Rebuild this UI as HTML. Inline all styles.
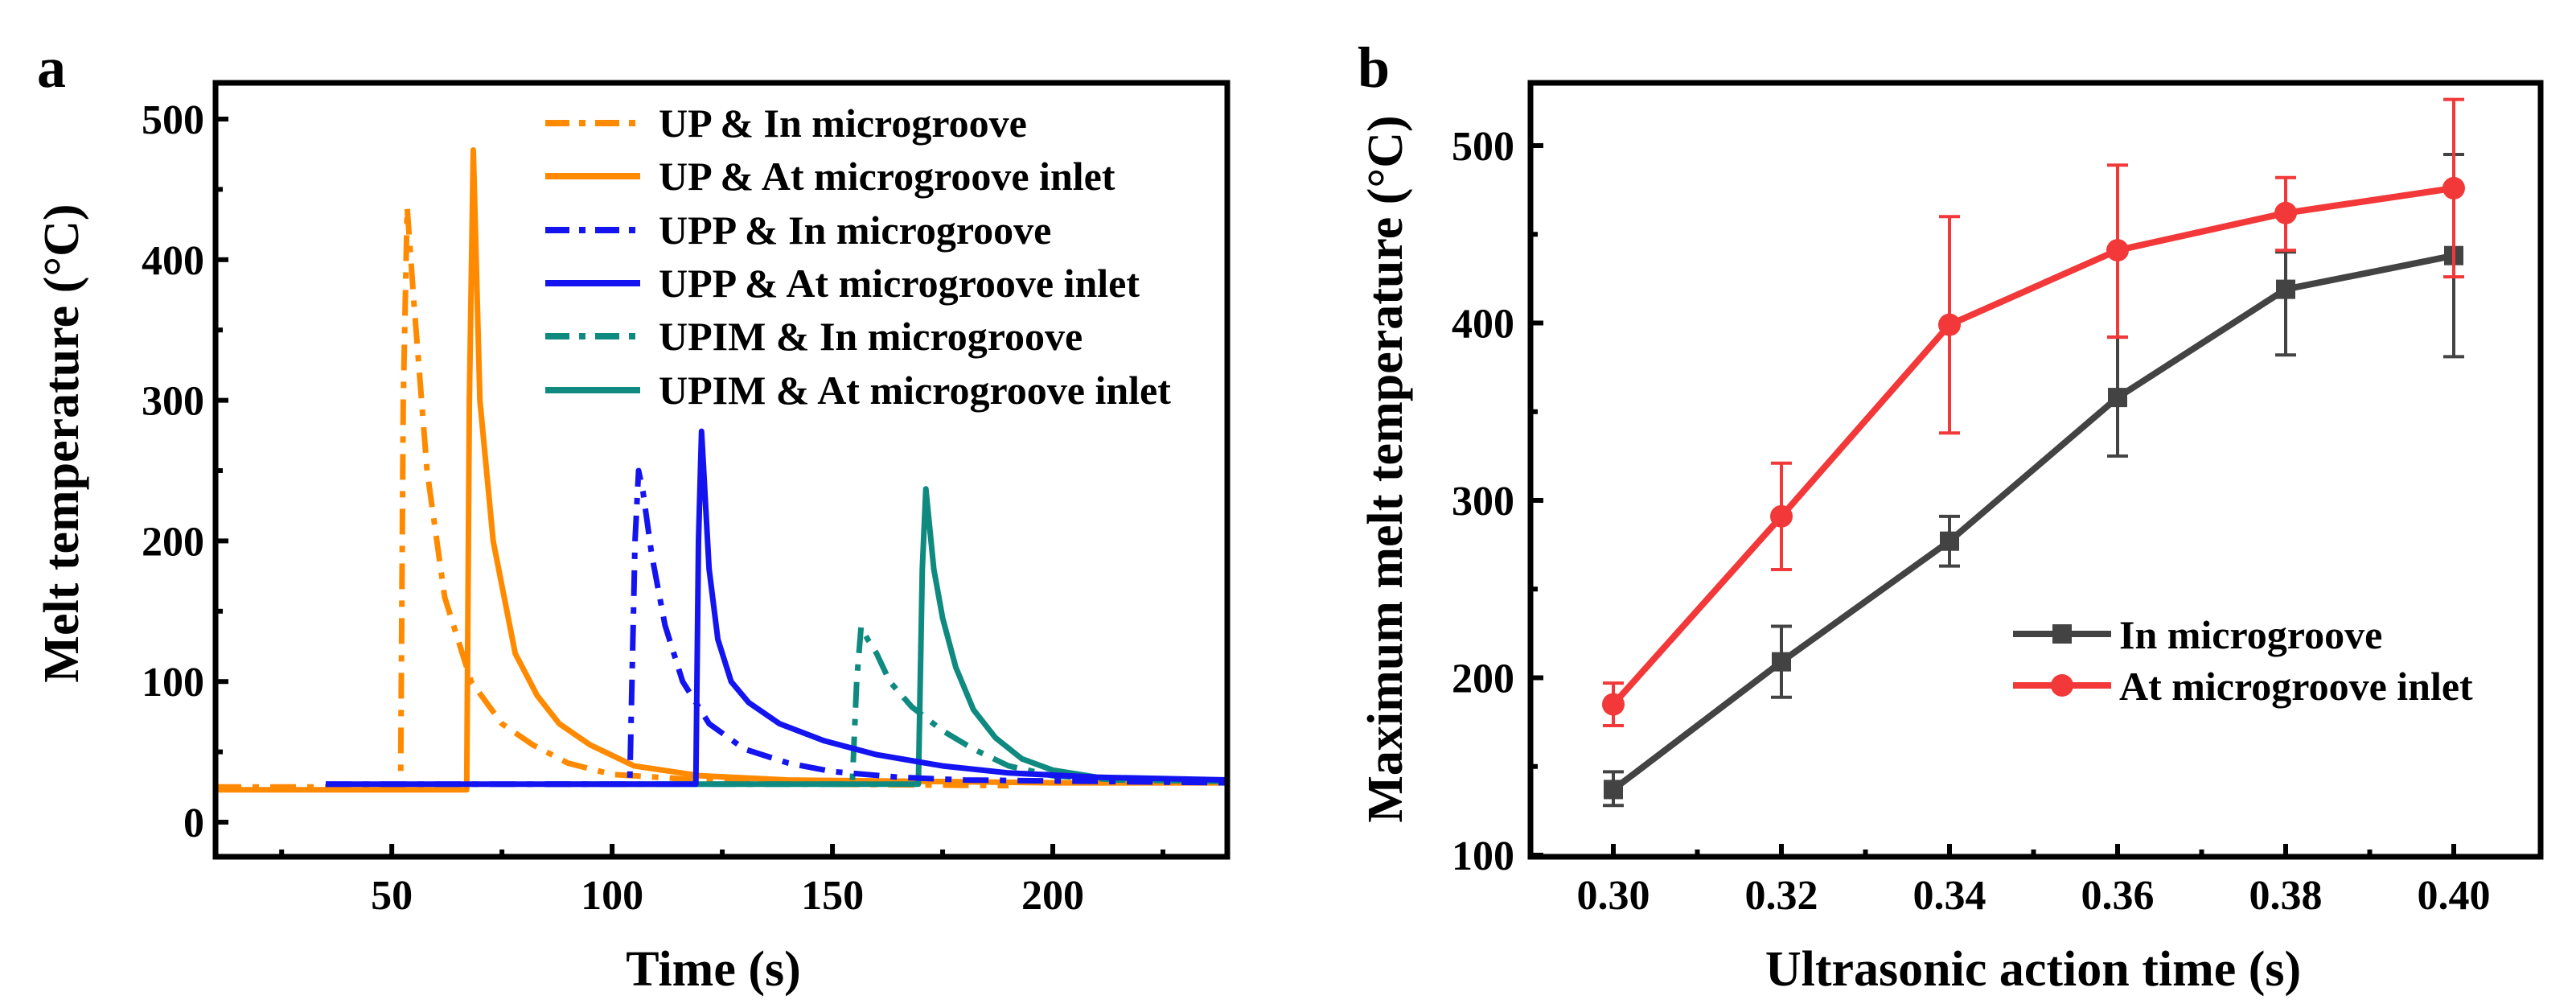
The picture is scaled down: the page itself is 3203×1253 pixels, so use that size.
<!DOCTYPE html>
<html><head><meta charset="utf-8"><style>
html,body{margin:0;padding:0;background:#fff;}
svg{display:block;}
text{font-family:"Liberation Serif",serif;font-weight:bold;fill:#000;}
</style></head><body>
<svg id="fig" width="3203" height="1253" viewBox="0 0 3203 1253">
<g id="pa"></g>
<g id="pb"></g>
</svg>
<script>
// ---------- Panel A data ----------
const aXTicks = [50, 100, 150, 200];
const aYTicks = [0, 100, 200, 300, 400, 500];
const aSeriesNames = ["UP & In microgroove","UP & At microgroove inlet","UPP & In microgroove","UPP & At microgroove inlet","UPIM & In microgroove","UPIM & At microgroove inlet"];
const upInT = [10,30,52,52.6,53.5,55,58,62,68,75,82,90,100,120,150,190];
const upInV = [25,25,25,300,437,370,250,160,100,70,55,42,34,30,27,26];
const upAtT = [10,67,67.6,68.5,70,73,78,83,88,95,105,120,140,170,200,240];
const upAtV = [23,23,300,478,300,200,120,90,70,55,40,33,30,29,28,28];
const uppInT = [35,104,105.2,106,107,109,112,116,122,130,140,150,165,180,210,240];
const uppInV = [27,27,200,250,235,190,140,100,70,52,42,36,32,30,29,28];
const uppAtT = [35,119,119.6,120.3,122,124,127,131,138,148,160,175,190,210,240];
const uppAtV = [27,27,200,278,180,130,100,85,70,58,48,40,35,32,30];
const upimInT = [85,154.5,155.5,156.5,158,160,163,168,175,182,190,200,215,240];
const upimInV = [27,27,100,139,130,120,100,82,65,52,40,33,30,29];
const upimAtT = [85,169.5,170.4,171.2,173,175,178,182,187,193,200,210,225,240];
const upimAtV = [27,27,180,237,180,145,110,80,60,45,37,32,30,29];

// ---------- Panel B data ----------
const bXTicks = [0.30,0.32,0.34,0.36,0.38,0.40];
const bYTicks = [100,200,300,400,500];
const bX = [0.30,0.32,0.34,0.36,0.38,0.40];
const inGroove = [137,209,277,358,419,438];
const inGrooveLo = [128,189,263,325,382,381];
const inGrooveHi = [147,229,291,392,440,495];
const atInlet = [185,291,399,441,462,476];
const atInletLo = [173,261,338,392,441,426];
const atInletHi = [197,321,460,489,482,526];

const NS="http://www.w3.org/2000/svg";
function mk(parent,tag,attrs,txt){const e=document.createElementNS(NS,tag);for(const k in attrs)e.setAttribute(k,attrs[k]);if(txt!==undefined)e.textContent=txt;parent.appendChild(e);return e;}

// ===== Panel A =====
(function(){
const g=document.getElementById('pa');
const L=268,R=1526,T=103,B=1065;
const x0=10,x1=239.6, yZero=1022, pxPer=174.8/100;
const sx=v=>L+(v-x0)/(x1-x0)*(R-L);
const sy=v=>yZero-v*pxPer;
let t=mk(g,'text',{x:46,y:108,'font-size':72});t.textContent='a';


const clip=mk(g,'clipPath',{id:'clipA'});mk(clip,'rect',{x:L,y:T,width:R-L,height:B-T});
const cols=['#ff8a00','#ff8a00','#1414f0','#1414f0','#0f8a80','#0f8a80'];
const dashes=['32,14,8,14','none','32,14,8,14','none','32,14,8,14','none'];
const Ts=[upInT,upAtT,uppInT,uppAtT,upimInT,upimAtT];
const Vs=[upInV,upAtV,uppInV,uppAtV,upimInV,upimAtV];
const order=[0,1,4,5,2,3];
const sg=mk(g,'g',{'clip-path':'url(#clipA)'});
order.forEach(i=>{
  const d=Ts[i].map((tt,j)=>(j?'L':'M')+sx(tt).toFixed(1)+','+sy(Vs[i][j]).toFixed(1)).join(' ');
  const p=mk(sg,'path',{d:d,fill:'none',stroke:cols[i],'stroke-width':7,'stroke-linejoin':'round','stroke-dasharray':dashes[i]});
  
  
});
const fr=mk(g,'rect',{x:L,y:T,width:R-L,height:B-T,fill:'none',stroke:'#000','stroke-width':7});


aYTicks.forEach(v=>{
  mk(g,'line',{x1:L,x2:L+16,y1:sy(v),y2:sy(v),stroke:'#000','stroke-width':6});
  const tx=mk(g,'text',{x:L-14,y:sy(v)+18,'font-size':52,'text-anchor':'end'},String(v));
  
  
});
for(let v=50;v<500;v+=100){mk(g,'line',{x1:L,x2:L+9,y1:sy(v),y2:sy(v),stroke:'#000','stroke-width':6});}
aXTicks.forEach(v=>{
  mk(g,'line',{x1:sx(v),x2:sx(v),y1:B,y2:B-16,stroke:'#000','stroke-width':6});
  const tx=mk(g,'text',{x:sx(v),y:1130,'font-size':52,'text-anchor':'middle'},String(v));
  
  
});
for(let v=25;v<240;v+=50){mk(g,'line',{x1:sx(v),x2:sx(v),y1:B,y2:B-9,stroke:'#000','stroke-width':6});}
let xt=mk(g,'text',{x:887,y:1225,'font-size':62,'text-anchor':'middle'},'Time (s)');


let yt=mk(g,'text',{x:0,y:0,'font-size':62,'text-anchor':'middle',transform:'translate(97,551) rotate(-90)'},'Melt temperature (°C)');


const lys=[153,219,286,352,418,485];
aSeriesNames.forEach((n,i)=>{
  const lg=mk(g,'g',{});
  
  
  mk(lg,'line',{x1:678,x2:796,y1:lys[i],y2:lys[i],stroke:cols[i],'stroke-width':8,'stroke-dasharray':dashes[i]==='none'?'none':'30,12,8,12'});
  mk(lg,'text',{x:819,y:lys[i]+17,'font-size':50},n);
});
})();

// ===== Panel B =====
(function(){
const g=document.getElementById('pb');
const L=1903,R=3159,T=103,B=1065;
const xa=0.30,xpa=2006,pxX=209/0.02;
const sx=v=>xpa+(v-xa)*pxX;
const sy=v=>1063-(v-100)*2.205;
let t=mk(g,'text',{x:1688,y:108,'font-size':72});t.textContent='b';


const fr=mk(g,'rect',{x:L,y:T,width:R-L,height:B-T,fill:'none',stroke:'#000','stroke-width':7});


bYTicks.forEach(v=>{
  mk(g,'line',{x1:L,x2:L+16,y1:sy(v),y2:sy(v),stroke:'#000','stroke-width':6});
  const tx=mk(g,'text',{x:L-20,y:sy(v)+18,'font-size':52,'text-anchor':'end'},String(v));
  
  
});
for(let v=150;v<536;v+=100){mk(g,'line',{x1:L,x2:L+9,y1:sy(v),y2:sy(v),stroke:'#000','stroke-width':6});}
bXTicks.forEach(v=>{
  mk(g,'line',{x1:sx(v),x2:sx(v),y1:B,y2:B-16,stroke:'#000','stroke-width':6});
  const tx=mk(g,'text',{x:sx(v),y:1130,'font-size':52,'text-anchor':'middle'},v.toFixed(2));
  
  
});
for(let v=0.31;v<0.405;v+=0.02){mk(g,'line',{x1:sx(v),x2:sx(v),y1:B,y2:B-9,stroke:'#000','stroke-width':6});}
let xt=mk(g,'text',{x:2528,y:1225,'font-size':62,'text-anchor':'middle'},'Ultrasonic action time (s)');


let yt=mk(g,'text',{x:0,y:0,'font-size':62,'text-anchor':'middle',transform:'translate(1743,583) rotate(-90)'},'Maximum melt temperature (°C)');


function series(vals,lo,hi,col,shape,name){
  const sg=mk(g,'g',{});
  
  
  mk(sg,'path',{d:bX.map((x,i)=>(i?'L':'M')+sx(x)+','+sy(vals[i])).join(' '),fill:'none',stroke:col,'stroke-width':8,'stroke-linejoin':'round'});
  bX.forEach((x,i)=>{
    const X=sx(x);
    mk(sg,'path',{d:`M${X},${sy(lo[i])}V${sy(hi[i])}M${X-13},${sy(lo[i])}H${X+13}M${X-13},${sy(hi[i])}H${X+13}`,stroke:col,'stroke-width':4,fill:'none'});
    if(shape==='sq') mk(sg,'rect',{x:X-12,y:sy(vals[i])-12,width:24,height:24,fill:col});
    else mk(sg,'circle',{cx:X,cy:sy(vals[i]),r:14,fill:col});
  });
}
series(inGroove,inGrooveLo,inGrooveHi,'#434343','sq','series-in-microgroove');
series(atInlet,atInletLo,atInletHi,'#f23838','ci','series-at-microgroove-inlet');
const l1=mk(g,'g',{});


mk(l1,'line',{x1:2503,x2:2625,y1:788,y2:788,stroke:'#434343','stroke-width':8});
mk(l1,'rect',{x:2552,y:776,width:24,height:24,fill:'#434343'});
mk(l1,'text',{x:2635,y:806,'font-size':50},'In microgroove');
const l2=mk(g,'g',{});


mk(l2,'line',{x1:2503,x2:2625,y1:852,y2:852,stroke:'#f23838','stroke-width':8});
mk(l2,'circle',{cx:2564,cy:852,r:14,fill:'#f23838'});
mk(l2,'text',{x:2635,y:870,'font-size':50},'At microgroove inlet');
})();
</script>
</body></html>
